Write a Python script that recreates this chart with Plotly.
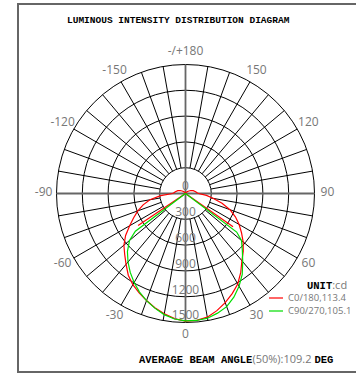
import plotly.graph_objects as go

# C0/180 plane (cd), angle in degrees, 0 = straight down
red_theta = [-180, -170, -160, -150, -140, -130, -120, -110, -100, -95, -90, -85, -80, -75,
             -70, -65, -60, -55, -50, -45, -40, -35, -30, -25, -20, -15, -10, -5, 0,
             5, 10, 15, 20, 25, 30, 35, 40, 45, 50, 55, 60, 65, 70, 75, 80, 85, 90, 95,
             100, 110, 120, 130, 140, 150, 160, 170, 180]
red_r = [0, 5, 10, 15, 25, 40, 70, 95, 120, 130, 150, 290, 420, 510,
         590, 665, 750, 850, 935, 1000, 1075, 1160, 1225, 1275, 1325, 1375, 1420, 1460, 1485,
         1480, 1460, 1410, 1350, 1285, 1215, 1120, 1020, 950, 875, 795, 720, 640, 550, 440, 330, 245, 150, 130,
         120, 95, 70, 40, 25, 15, 10, 5, 0]
red_spoke_theta = [-56, 55]
red_spoke_r = [665, 675]

# C90/270 plane (cd)
green_theta = [-53, -53, -50, -45, -40, -35, -30, -25, -20, -15, -10, -5, 0,
               5, 10, 15, 20, 25, 30, 35, 40, 45, 50, 53, 53]
green_r = [0, 730, 850, 955, 1040, 1120, 1195, 1265, 1325, 1380, 1430, 1465, 1480,
           1482, 1472, 1440, 1400, 1330, 1245, 1150, 1035, 935, 850, 745, 0]

ring_values = [0, 300, 600, 900, 1200, 1500]
angle_vals = [0, 30, 60, 90, 120, 150, 180, 210, 240, 270, 300, 330]
angle_text = ["0", "30", "60", "90", "120", "150", "-/+180", "-150", "-120", "-90", "-60", "-30"]
spoke_angles = [a for a in range(0, 360, 10) if a % 90 != 0]

W, H = 356, 373
cx, cy = 185.5, 193.5
r_max, label_r, view_max = 1500, 1650, 1680
R = 129 * view_max / r_max  # pixel radius of the whole polar area

fig = go.Figure()

# spokes every 10 deg, from the 300 ring out to the 1500 ring
grid_t, grid_r = [], []
for a in spoke_angles:
    grid_t += [a, a, None]
    grid_r += [300, r_max, None]
fig.add_trace(go.Scatterpolar(theta=grid_t, r=grid_r, mode="lines",
                              line=dict(color="black", width=1), hoverinfo="skip"))
# grey cross through the centre
fig.add_trace(go.Scatterpolar(theta=[0, 0, 180, None, 90, 90, 270],
                              r=[r_max, 0, r_max, None, r_max, 0, r_max], mode="lines",
                              line=dict(color="#666666", width=1.8), hoverinfo="skip"))

spoke_t, spoke_r = [], []
for t, v in zip(red_spoke_theta, red_spoke_r):
    spoke_t += [t, t, None]
    spoke_r += [0, v, None]
fig.add_trace(go.Scatterpolar(theta=spoke_t, r=spoke_r, mode="lines",
                              line=dict(color="#ff0000", width=1.2)))
fig.add_trace(go.Scatterpolar(theta=red_theta, r=red_r, mode="lines", name="C0/180",
                              line=dict(color="#ff0000", width=1.2)))
fig.add_trace(go.Scatterpolar(theta=green_theta, r=green_r, mode="lines", name="C90/270",
                              line=dict(color="#00dd00", width=1.2)))
fig.add_trace(go.Scatterpolar(theta=[0] * len(ring_values), r=ring_values, mode="text",
                              text=[str(v) for v in ring_values], textposition="top center",
                              textfont=dict(family="Open Sans", size=12, color="#777777"),
                              cliponaxis=False, hoverinfo="skip"))
fig.add_trace(go.Scatterpolar(theta=angle_vals, r=[label_r] * len(angle_vals), mode="text",
                              text=angle_text, textposition="middle center",
                              textfont=dict(family="Open Sans", size=12, color="#777777"),
                              cliponaxis=False, hoverinfo="skip"))

fig.update_layout(
    width=W, height=H,
    margin=dict(l=0, r=0, t=0, b=0),
    paper_bgcolor="white",
    showlegend=False,
    polar=dict(
        domain=dict(x=[(cx - R) / W, (cx + R) / W], y=[1 - (cy + R) / H, 1 - (cy - R) / H]),
        bgcolor="white",
        angularaxis=dict(rotation=270, direction="counterclockwise",
                         showgrid=False, showticklabels=False, ticks="", showline=False),
        radialaxis=dict(range=[0, view_max], tickmode="array",
                        tickvals=[300, 600, 900, 1200, 1500],
                        showticklabels=False, ticks="", showline=False,
                        gridcolor="black", gridwidth=1),
    ),
)

mono = "font-family:'Courier New','Liberation Mono',monospace;font-weight:bold;color:black"

# frame
fig.add_shape(type="rect", xref="paper", yref="paper",
              x0=18 / W, x1=1.01, y0=1 - 372 / H, y1=1 - 4 / H,
              line=dict(color="#666666", width=2))

fig.add_annotation(x=178.5 / W, y=1 - 20.5 / H, xref="paper", yref="paper", showarrow=False,
                   yanchor="middle",
                   text="LUMINOUS INTENSITY DISTRIBUTION DIAGRAM",
                   font=dict(family="Courier New, Liberation Mono, monospace", size=9.5, color="black",
                             weight="bold"))

fig.add_annotation(x=305 / W, y=1 - 284 / H, xref="paper", yref="paper", showarrow=False,
                   xanchor="left", yanchor="middle",
                   text=f'<span style="{mono};font-size:10.5px">UNIT</span>:cd',
                   font=dict(family="Open Sans", size=11, color="#777777"))

legend_items = [("C0/180,113.4", "#ff0000", 298), ("C90/270,105.1", "#00dd00", 311)]
for label, col, y in legend_items:
    fig.add_shape(type="line", xref="paper", yref="paper",
                  x0=269 / W, x1=283 / W, y0=1 - y / H, y1=1 - y / H,
                  line=dict(color=col, width=1.2))
    fig.add_annotation(x=286 / W, y=1 - (y - 1) / H, xref="paper", yref="paper", showarrow=False,
                       xanchor="left", yanchor="middle", text=label,
                       font=dict(family="Open Sans", size=9.5, color="#777777"))

fig.add_annotation(x=137 / W, y=1 - 358 / H, xref="paper", yref="paper", showarrow=False,
                   xanchor="left", yanchor="middle",
                   text=(f'<span style="{mono};font-size:10.5px">AVERAGE BEAM ANGLE</span>'
                         f'(50%):109.2 <span style="{mono};font-size:10.5px">DEG</span>'),
                   font=dict(family="Open Sans", size=11, color="#777777"))

fig.write_html("out.html", config={"displayModeBar": False},
               post_script="document.body.style.margin='0';document.body.style.overflow='hidden';")
